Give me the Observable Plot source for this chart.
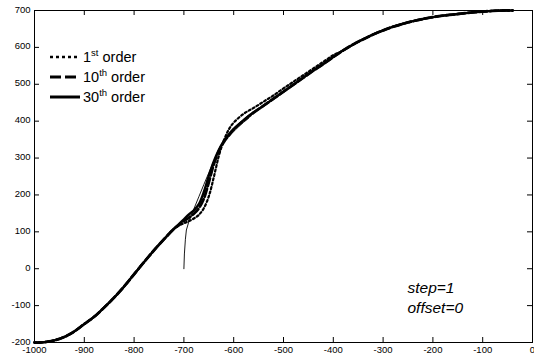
<!DOCTYPE html>
<html>
<head>
<meta charset="utf-8">
<script src="https://cdn.jsdelivr.net/npm/d3@7"></script>
<script src="https://cdn.jsdelivr.net/npm/@observablehq/plot@0.6"></script>
<style>
  body { margin: 0; background: #fff; }
  svg { display: block; }
</style>
</head>
<body>
<div id="chart"></div>
<script>
// Shared lower branch (all orders coincide here)
const lowX = [-1000, -990, -980, -970, -960, -950, -940, -930, -920, -900, -880, -860, -840, -820, -800, -780, -760, -740, -720];
const lowY = [-200, -200, -199, -197, -194, -190, -185, -178, -170, -150, -130, -105, -78, -48, -15, 18, 50, 80, 108];

// Transition region where the approximations differ
const midX = [-710, -700, -690, -680, -670, -660, -650, -640, -630, -620, -610, -600, -580, -560, -540, -520, -500, -480, -460, -440, -420, -400];
const mid1st = [117, 123, 129, 136, 146, 164, 196, 248, 305, 347, 377, 396, 420, 436, 453, 470, 489, 507, 525, 543, 561, 579];
const mid10th = [119, 129, 138, 149, 164, 190, 234, 283, 318, 343, 361, 377, 402, 423, 442, 461, 480, 499, 518, 537, 555, 574];
const mid30th = [121, 134, 147, 158, 175, 208, 252, 291, 322, 346, 364, 379, 403, 424, 442, 461, 480, 499, 518, 537, 555, 574];

// Shared upper branch
const highX = [-380, -360, -340, -320, -300, -280, -260, -240, -220, -200, -180, -160, -140, -120, -100, -80, -60, -40];
const highY = [592, 608, 622, 635, 646, 656, 664, 671, 677, 682, 686, 689, 692, 695, 697, 699, 700, 700];

// Thin reference curve starting at x = -700
const thinX = [-700, -699, -697, -695, -690, -685, -680, -670, -660, -650, -640, -630, -620, -610, -600, -590, -580, -570];
const thinY = [0, 40, 80, 105, 128, 145, 162, 195, 228, 260, 292, 320, 342, 358, 372, 385, 397, 408];

const xTicks = [-1000, -900, -800, -700, -600, -500, -400, -300, -200, -100, 0];
const yTicks = [-200, -100, 0, 100, 200, 300, 400, 500, 600, 700];

const legendNums = ["1", "10", "30"];
const legendSups = ["st", "th", "th"];

// Layout
const W = 534, H = 361;
const mL = 34, mR = 2, mT = 10, mB = 19;
const innerW = W - mL - mR, innerH = H - mT - mB;
const tickLen = 5;

const pts = (xs, ys) => xs.map((x, i) => ({x, y: ys[i]}));
const curve = mid => [...pts(lowX, lowY), ...pts(midX, mid), ...pts(highX, highY)];

const order1 = curve(mid1st);
const order10 = curve(mid10th);
const order30 = curve(mid30th);
const thin = pts(thinX, thinY);

const fmt = d => String(d);
const font = "'Liberation Sans', Arial, sans-serif";

const chart = Plot.plot({
  width: W,
  height: H,
  marginLeft: mL,
  marginRight: mR,
  marginTop: mT,
  marginBottom: mB,
  x: {domain: [-1000, 0]},
  y: {domain: [-200, 700]},
  style: {fontFamily: font, background: "#fff", color: "#000"},
  marks: [
    // data
    Plot.line(thin, {x: "x", y: "y", stroke: "#000", strokeWidth: 0.9}),
    Plot.line(order1, {x: "x", y: "y", stroke: "#000", strokeWidth: 2.2, strokeDasharray: "2,2.5", curve: "catmull-rom"}),
    Plot.line(order10, {x: "x", y: "y", stroke: "#000", strokeWidth: 2.8, strokeDasharray: "8,3", curve: "catmull-rom"}),
    Plot.line(order30, {x: "x", y: "y", stroke: "#000", strokeWidth: 2.4, curve: "catmull-rom"}),
    // box and inward ticks on all four sides
    Plot.frame({stroke: "#000", strokeWidth: 1}),
    Plot.ruleX(xTicks, {x: d => d, insetTop: innerH - tickLen, stroke: "#000"}),
    Plot.ruleX(xTicks, {x: d => d, insetBottom: innerH - tickLen, stroke: "#000"}),
    Plot.ruleY(yTicks, {y: d => d, insetRight: innerW - tickLen, stroke: "#000"}),
    Plot.ruleY(yTicks, {y: d => d, insetLeft: innerW - tickLen, stroke: "#000"}),
    Plot.axisX(xTicks, {tickSize: 0, tickPadding: 4, tickFormat: fmt, fontSize: 9.5, label: null}),
    Plot.axisY(yTicks, {tickSize: 0, tickPadding: 4, tickFormat: fmt, fontSize: 9.5, label: null, dy: -1}),
    // parameter note
    Plot.text(["step=1\noffset=0"], {
      frameAnchor: "top-left", dx: 373, dy: 268, textAnchor: "start", lineAnchor: "top",
      fontSize: 15.5, fontStyle: "italic", lineHeight: 1.3, fill: "#000"
    })
  ]
});

// Legend (line samples with superscripted order labels)
const svg = d3.select(chart);
const legend = svg.append("g")
  .attr("font-family", font)
  .attr("text-anchor", "start");
const styles = [
  {dash: "3,3", width: 2.6},
  {dash: "11,4", width: 2.8},
  {dash: null, width: 3}
];
legendNums.forEach((num, i) => {
  const cy = 57 + i * 20;
  const line = legend.append("line")
    .attr("x1", 50).attr("x2", 80).attr("y1", cy).attr("y2", cy)
    .attr("stroke", "#000").attr("stroke-width", styles[i].width);
  if (styles[i].dash) line.attr("stroke-dasharray", styles[i].dash);
  const t = legend.append("text")
    .attr("x", 83).attr("y", cy + 5)
    .attr("text-anchor", "start")
    .attr("font-size", 14.5).attr("fill", "#000");
  t.append("tspan").text(num);
  t.append("tspan").attr("dy", -6).attr("font-size", 9.5).text(legendSups[i]);
  t.append("tspan").attr("dy", 6).text("\u00a0order");
});

document.getElementById("chart").append(chart);
</script>
</body>
</html>
